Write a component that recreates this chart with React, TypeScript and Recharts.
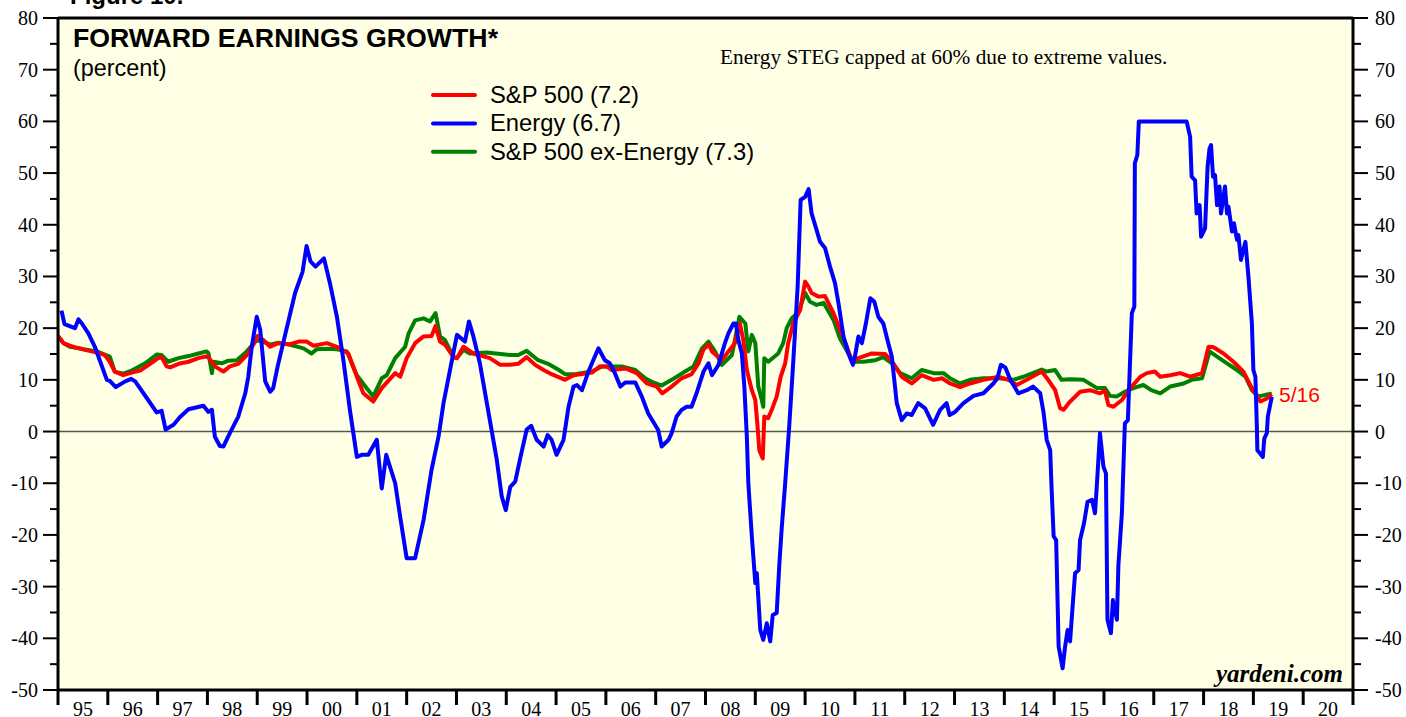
import React from 'react';
import { LineChart, Line, XAxis, YAxis, CartesianGrid, ReferenceLine } from 'recharts';

// [year, percent]
const sp500: [number, number][] = [
  [1995.0, 18.5], [1995.11, 17.1], [1995.24, 16.6], [1995.38, 16.2], [1995.54, 15.8], [1995.78, 15.3],
  [1995.94, 14.8], [1996.04, 13.5], [1996.14, 11.6], [1996.31, 10.9], [1996.48, 11.4], [1996.65, 11.8],
  [1996.85, 13.1], [1997.01, 14.2], [1997.08, 14.4], [1997.18, 12.6], [1997.25, 12.4], [1997.42, 13.1],
  [1997.62, 13.5], [1997.82, 14.2], [1997.95, 14.5], [1998.02, 14.4], [1998.15, 12.6], [1998.32, 11.6],
  [1998.45, 12.6], [1998.62, 13.1], [1998.79, 14.8], [1998.92, 16.8], [1999.01, 18.5], [1999.12, 17.7],
  [1999.26, 16.4], [1999.42, 17.1], [1999.66, 16.9], [1999.83, 17.4], [1999.99, 17.4], [2000.13, 16.6],
  [2000.4, 17.1], [2000.6, 16.4], [2000.83, 15.1], [2001.0, 10.6], [2001.13, 7.4], [2001.33, 5.8],
  [2001.5, 8.4], [2001.77, 11.3], [2001.87, 10.6], [2002.0, 14.2], [2002.17, 17.1], [2002.34, 18.4],
  [2002.5, 18.5], [2002.58, 20.4], [2002.67, 17.4], [2002.77, 16.8], [2002.94, 14.4], [2003.01, 14.2],
  [2003.14, 16.4], [2003.34, 15.1], [2003.67, 14.2], [2003.88, 12.9], [2004.08, 12.9], [2004.24, 13.1],
  [2004.41, 14.4], [2004.58, 12.9], [2004.75, 11.9], [2004.91, 11.1], [2005.18, 10.0], [2005.35, 10.9],
  [2005.72, 11.4], [2005.88, 12.6], [2006.02, 12.6], [2006.12, 11.9], [2006.39, 12.2], [2006.62, 11.3],
  [2006.82, 9.3], [2007.02, 8.7], [2007.13, 7.4], [2007.32, 8.7], [2007.52, 10.3], [2007.72, 11.1],
  [2007.86, 13.2], [2007.96, 15.9], [2008.07, 16.8], [2008.13, 15.5], [2008.33, 13.8], [2008.46, 15.5],
  [2008.59, 17.1], [2008.69, 20.9], [2008.76, 17.7], [2008.83, 11.9], [2008.93, 8.0], [2009.0, 6.1],
  [2009.04, 1.6], [2009.08, -3.6], [2009.15, -5.2], [2009.18, 2.9], [2009.26, 2.6], [2009.33, 4.2],
  [2009.43, 6.8], [2009.51, 10.6], [2009.6, 13.2], [2009.66, 17.1], [2009.76, 20.9], [2009.9, 23.5],
  [2010.0, 29.0], [2010.07, 28.0], [2010.13, 26.8], [2010.27, 26.1], [2010.4, 26.2], [2010.57, 22.9],
  [2010.7, 19.7], [2010.84, 16.4], [2010.94, 13.5], [2011.07, 14.2], [2011.34, 15.1], [2011.61, 15.0],
  [2011.77, 13.2], [2011.94, 10.6], [2012.14, 9.3], [2012.34, 10.9], [2012.58, 10.0], [2012.75, 10.3],
  [2012.91, 9.3], [2013.11, 8.6], [2013.31, 9.3], [2013.58, 10.0], [2013.88, 10.6], [2014.08, 10.0],
  [2014.25, 9.0], [2014.45, 10.0], [2014.75, 11.6], [2014.88, 10.0], [2015.02, 8.0], [2015.12, 4.5],
  [2015.19, 4.2], [2015.32, 5.8], [2015.52, 7.7], [2015.72, 8.0], [2015.92, 7.4], [2016.02, 7.9],
  [2016.09, 5.1], [2016.19, 4.8], [2016.36, 6.1], [2016.53, 8.4], [2016.73, 10.6], [2016.86, 11.3],
  [2017.02, 11.6], [2017.13, 10.6], [2017.33, 10.9], [2017.53, 11.3], [2017.73, 10.6], [2017.97, 11.3],
  [2018.1, 16.4], [2018.2, 16.3], [2018.4, 15.1], [2018.6, 13.5], [2018.8, 11.6], [2018.97, 8.4],
  [2019.14, 5.8], [2019.27, 6.4], [2019.37, 7.2],
];

const exEnergy: [number, number][] = [
  [1995.0, 18.5], [1995.11, 17.1], [1995.24, 16.4], [1995.54, 15.9], [1995.78, 15.5], [1995.94, 14.9],
  [1996.04, 14.5], [1996.14, 11.6], [1996.31, 11.2], [1996.48, 11.8], [1996.75, 13.2], [1996.98, 14.9],
  [1997.08, 14.8], [1997.21, 13.5], [1997.42, 14.2], [1997.62, 14.6], [1997.82, 15.1], [1997.98, 15.5],
  [1998.02, 15.2], [1998.09, 11.3], [1998.12, 13.5], [1998.29, 13.2], [1998.42, 13.7], [1998.59, 13.8],
  [1998.79, 15.5], [1998.99, 17.7], [1999.12, 17.4], [1999.26, 16.8], [1999.42, 17.2], [1999.66, 16.8],
  [1999.93, 16.1], [2000.09, 15.1], [2000.19, 15.9], [2000.4, 16.0], [2000.6, 15.9], [2000.8, 15.5],
  [2001.0, 10.9], [2001.17, 8.7], [2001.33, 6.8], [2001.5, 10.3], [2001.6, 10.9], [2001.77, 14.2],
  [2001.97, 16.4], [2002.04, 19.0], [2002.17, 21.5], [2002.34, 21.9], [2002.47, 21.3], [2002.58, 22.9],
  [2002.67, 18.4], [2002.77, 17.7], [2002.94, 14.4], [2003.01, 14.2], [2003.14, 15.8], [2003.27, 15.1],
  [2003.61, 15.3], [2004.08, 14.8], [2004.24, 14.8], [2004.41, 15.6], [2004.64, 13.8], [2004.84, 13.1],
  [2005.04, 12.0], [2005.18, 11.1], [2005.38, 11.1], [2005.72, 11.6], [2005.92, 12.6], [2006.32, 12.6],
  [2006.59, 11.9], [2006.79, 10.3], [2006.95, 9.5], [2007.12, 8.9], [2007.32, 10.0], [2007.59, 11.6],
  [2007.76, 12.6], [2007.93, 16.1], [2008.06, 17.4], [2008.19, 15.5], [2008.33, 12.9], [2008.53, 14.8],
  [2008.59, 17.7], [2008.68, 22.2], [2008.8, 20.9], [2008.86, 15.5], [2008.93, 18.7], [2009.0, 17.1],
  [2009.06, 8.7], [2009.13, 6.1], [2009.16, 4.8], [2009.18, 14.2], [2009.26, 13.5], [2009.46, 15.1],
  [2009.56, 17.1], [2009.63, 20.0], [2009.73, 21.9], [2009.87, 23.2], [2010.0, 26.8], [2010.1, 25.1],
  [2010.23, 24.5], [2010.37, 24.9], [2010.57, 21.6], [2010.7, 18.0], [2010.87, 15.1], [2010.97, 13.5],
  [2011.17, 13.5], [2011.41, 13.8], [2011.57, 14.4], [2011.77, 13.0], [2011.91, 11.3], [2012.14, 10.3],
  [2012.34, 11.9], [2012.58, 11.3], [2012.78, 11.3], [2012.91, 10.3], [2013.11, 9.3], [2013.31, 10.0],
  [2013.58, 10.3], [2013.88, 10.3], [2014.18, 10.0], [2014.38, 10.6], [2014.75, 12.0], [2014.85, 11.6],
  [2015.02, 11.9], [2015.15, 10.0], [2015.32, 10.1], [2015.59, 10.0], [2015.86, 8.4], [2016.02, 8.4],
  [2016.12, 6.9], [2016.26, 6.8], [2016.42, 7.7], [2016.59, 8.4], [2016.79, 9.0], [2016.95, 8.0],
  [2017.13, 7.4], [2017.33, 8.7], [2017.6, 9.3], [2017.76, 10.0], [2017.97, 10.3], [2018.12, 15.5],
  [2018.27, 14.5], [2018.47, 13.2], [2018.67, 11.9], [2018.84, 10.6], [2018.97, 8.0], [2019.1, 6.8],
  [2019.24, 7.1], [2019.37, 7.3],
];

const energy: [number, number][] = [
  [1995.07, 23.4], [1995.13, 20.8], [1995.34, 20.0], [1995.41, 21.7], [1995.48, 20.9], [1995.61, 19.0],
  [1995.74, 16.4], [1995.98, 10.0], [1996.04, 9.8], [1996.16, 8.6], [1996.35, 9.7], [1996.47, 10.2],
  [1996.55, 9.7], [1996.81, 6.1], [1996.98, 3.7], [1997.08, 4.0], [1997.16, 0.4], [1997.32, 1.3],
  [1997.45, 2.8], [1997.62, 4.3], [1997.92, 5.0], [1998.02, 3.8], [1998.09, 4.2], [1998.15, -1.0],
  [1998.25, -2.8], [1998.32, -2.9], [1998.45, -0.3], [1998.62, 2.9], [1998.76, 7.4], [1998.82, 10.6],
  [1998.89, 16.4], [1998.99, 22.2], [1999.06, 19.7], [1999.16, 9.7], [1999.26, 7.7], [1999.32, 8.4],
  [1999.41, 12.6], [1999.56, 18.7], [1999.76, 26.8], [1999.91, 30.9], [1999.99, 35.9], [2000.07, 32.9],
  [2000.17, 31.9], [2000.34, 33.5], [2000.46, 28.7], [2000.6, 22.2], [2000.73, 13.8], [2000.86, 4.2],
  [2001.0, -4.9], [2001.1, -4.5], [2001.23, -4.5], [2001.4, -1.6], [2001.5, -11.0], [2001.59, -4.5],
  [2001.77, -10.0], [2001.87, -16.5], [2002.0, -24.5], [2002.17, -24.5], [2002.34, -17.1], [2002.5, -7.4],
  [2002.64, -1.0], [2002.74, 5.5], [2002.87, 11.9], [2003.01, 18.7], [2003.17, 17.4], [2003.25, 21.3],
  [2003.34, 18.4], [2003.47, 13.2], [2003.67, 2.2], [2003.81, -5.5], [2003.91, -12.6], [2003.99, -15.2],
  [2004.08, -10.7], [2004.18, -9.7], [2004.28, -5.2], [2004.41, 0.4], [2004.5, 1.1], [2004.61, -1.6],
  [2004.75, -2.9], [2004.83, -0.7], [2004.91, -1.6], [2005.01, -4.5], [2005.15, -1.6], [2005.25, 4.8],
  [2005.35, 8.7], [2005.42, 9.0], [2005.52, 8.0], [2005.65, 11.6], [2005.85, 16.1], [2005.98, 13.8],
  [2006.08, 13.2], [2006.18, 11.3], [2006.29, 8.7], [2006.39, 9.5], [2006.59, 9.5], [2006.72, 6.8],
  [2006.85, 3.5], [2007.05, 0.3], [2007.12, -2.9], [2007.26, -1.6], [2007.32, -0.3], [2007.42, 2.9],
  [2007.52, 4.2], [2007.62, 4.8], [2007.72, 4.8], [2007.82, 7.4], [2007.96, 11.6], [2008.06, 13.2],
  [2008.13, 10.9], [2008.26, 12.9], [2008.39, 17.1], [2008.46, 19.0], [2008.56, 20.9], [2008.61, 20.9],
  [2008.66, 17.7], [2008.73, 15.1], [2008.78, 8.7], [2008.83, -1.0], [2008.86, -10.0], [2008.93, -20.3],
  [2009.0, -29.3], [2009.03, -27.4], [2009.1, -38.4], [2009.16, -40.3], [2009.23, -37.1], [2009.3, -40.6],
  [2009.35, -35.5], [2009.43, -35.1], [2009.48, -26.1], [2009.53, -18.7], [2009.6, -10.0], [2009.68, 0.9],
  [2009.76, 13.2], [2009.85, 28.0], [2009.91, 44.8], [2010.0, 45.4], [2010.07, 46.9], [2010.13, 42.2],
  [2010.23, 39.0], [2010.3, 36.7], [2010.4, 35.5], [2010.5, 31.9], [2010.6, 28.7], [2010.67, 24.8],
  [2010.77, 18.4], [2010.87, 15.1], [2010.96, 12.9], [2011.0, 14.5], [2011.07, 18.4], [2011.14, 17.1],
  [2011.22, 20.9], [2011.31, 25.8], [2011.39, 25.1], [2011.47, 22.2], [2011.57, 20.9], [2011.67, 17.1],
  [2011.74, 14.5], [2011.84, 5.5], [2011.94, 2.2], [2012.04, 3.5], [2012.14, 3.2], [2012.27, 5.5],
  [2012.41, 4.5], [2012.57, 1.3], [2012.71, 4.2], [2012.84, 5.5], [2012.9, 3.2], [2013.01, 3.8],
  [2013.18, 5.5], [2013.38, 6.9], [2013.58, 7.4], [2013.78, 9.3], [2013.86, 10.3], [2013.93, 12.9],
  [2014.02, 12.4], [2014.12, 10.0], [2014.28, 7.4], [2014.45, 8.0], [2014.58, 8.7], [2014.72, 7.4],
  [2014.79, 3.5], [2014.85, -1.6], [2014.92, -3.6], [2014.95, -11.3], [2014.99, -20.3], [2015.04, -21.0],
  [2015.09, -41.6], [2015.17, -45.8], [2015.22, -41.6], [2015.27, -38.4], [2015.32, -40.6], [2015.37, -33.9],
  [2015.42, -27.4], [2015.49, -26.8], [2015.52, -21.0], [2015.6, -17.7], [2015.67, -13.6], [2015.76, -13.2],
  [2015.82, -15.8], [2015.86, -10.0], [2015.92, -0.3], [2015.99, -6.8], [2016.04, -8.1], [2016.07, -36.4],
  [2016.14, -39.0], [2016.18, -32.6], [2016.26, -36.4], [2016.29, -25.8], [2016.36, -15.8], [2016.42, 1.6],
  [2016.48, 2.2], [2016.56, 22.9], [2016.61, 24.2], [2016.62, 51.9], [2016.67, 53.5], [2016.7, 60.0],
  [2017.66, 60.0], [2017.73, 57.0], [2017.76, 49.3], [2017.83, 48.6], [2017.86, 42.2], [2017.92, 43.8],
  [2017.95, 37.7], [2018.03, 39.3], [2018.08, 51.2], [2018.12, 54.8], [2018.15, 55.4], [2018.19, 49.3],
  [2018.23, 49.6], [2018.27, 43.8], [2018.32, 47.4], [2018.35, 42.2], [2018.43, 47.4], [2018.47, 42.2],
  [2018.5, 43.5], [2018.57, 38.7], [2018.61, 40.3], [2018.67, 37.1], [2018.7, 38.0], [2018.75, 33.2],
  [2018.84, 36.7], [2018.9, 30.0], [2018.97, 20.9], [2019.0, 11.9], [2019.04, 10.6], [2019.07, 0.9],
  [2019.08, -3.6], [2019.13, -4.2], [2019.19, -4.9], [2019.22, -1.3], [2019.27, -0.3], [2019.29, 2.9],
  [2019.33, 4.8], [2019.37, 6.7],
];

const yTicks = [-50, -45, -40, -35, -30, -25, -20, -15, -10, -5, 0, 5, 10, 15, 20, 25, 30, 35, 40, 45, 50, 55, 60, 65, 70, 75, 80];
const xTicks = [1995, 1996, 1997, 1998, 1999, 2000, 2001, 2002, 2003, 2004, 2005, 2006, 2007, 2008, 2009, 2010, 2011, 2012, 2013, 2014, 2015, 2016, 2017, 2018, 2019, 2020, 2021];

const legendItems = [
  { name: 'S&P 500 (7.2)', color: '#FF0000' },
  { name: 'Energy (6.7)', color: '#0000FF' },
  { name: 'S&P 500 ex-Energy (7.3)', color: '#008000' },
];

const W = 1406;
const H = 717;
const PLOT_L = 58;
const PLOT_R = 1353;
const PLOT_T = 18;
const PLOT_B = 690;
const HALF_YEAR = (PLOT_R - PLOT_L) / (xTicks.length - 1) / 2;
const SERIF = '"Liberation Serif", "Times New Roman", serif';
const SANS = '"Liberation Sans", Arial, sans-serif';

const toRows = (arr: [number, number][]) => arr.map(([x, y]) => ({ x, y }));

const LeftTick = (props: any) => {
  const { x, y, payload } = props;
  const v = payload.value;
  const major = v % 10 === 0;
  return (
    <g>
      <line x1={x - (major ? 15 : 8)} x2={x} y1={y} y2={y} stroke="#000" strokeWidth={2} />
      {major && (
        <text x={x - 20} y={y} dy={7} textAnchor="end" fontFamily={SERIF} fontSize={20} fill="#000">
          {v}
        </text>
      )}
    </g>
  );
};

const RightTick = (props: any) => {
  const { x, y, payload } = props;
  const v = payload.value;
  const major = v % 10 === 0;
  return (
    <g>
      <line x1={x} x2={x + (major ? 15 : 8)} y1={y} y2={y} stroke="#000" strokeWidth={2} />
      {major && (
        <text x={x + 22} y={y} dy={7} textAnchor="start" fontFamily={SERIF} fontSize={20} fill="#000">
          {v}
        </text>
      )}
    </g>
  );
};

const XTick = (props: any) => {
  const { x, y, payload } = props;
  const v = payload.value;
  return (
    <g>
      <line x1={x} x2={x} y1={y} y2={y + 15} stroke="#000" strokeWidth={3} />
      {v < 2021 && (
        <text x={x + HALF_YEAR} y={y + 26} textAnchor="middle" fontFamily={SERIF} fontSize={20} fill="#000">
          {String(v % 100).padStart(2, '0')}
        </text>
      )}
    </g>
  );
};

export default function App() {
  return (
    <div style={{ position: 'absolute', left: 0, top: 0, width: W, height: H, background: '#fff' }}>
      <LineChart width={W} height={H} margin={{ top: PLOT_T, right: 0, bottom: 0, left: 0 }}>
        <CartesianGrid yAxisId="left" horizontal={false} vertical={false} fill="#FFFFE6" fillOpacity={1} stroke="none" />
        <XAxis
          type="number"
          dataKey="x"
          domain={[1995, 2021]}
          allowDataOverflow
          ticks={xTicks}
          interval={0}
          height={H - PLOT_B}
          tickSize={0}
          tickMargin={0}
          tick={<XTick />}
          tickLine={false}
          axisLine={{ stroke: '#000', strokeWidth: 3 }}
        />
        <YAxis
          yAxisId="left"
          orientation="left"
          type="number"
          domain={[-50, 80]}
          allowDataOverflow
          ticks={yTicks}
          interval={0}
          width={PLOT_L}
          tickSize={0}
          tickMargin={0}
          tick={<LeftTick />}
          tickLine={false}
          axisLine={{ stroke: '#000', strokeWidth: 3 }}
        />
        <YAxis
          yAxisId="right"
          orientation="right"
          type="number"
          domain={[-50, 80]}
          allowDataOverflow
          ticks={yTicks}
          interval={0}
          width={W - PLOT_R}
          tickSize={0}
          tickMargin={0}
          tick={<RightTick />}
          tickLine={false}
          axisLine={{ stroke: '#000', strokeWidth: 3 }}
        />
        <ReferenceLine yAxisId="left" y={0} stroke="#555" strokeWidth={1.5} />
        <ReferenceLine yAxisId="left" y={80} stroke="#000" strokeWidth={3} />
        <Line
          yAxisId="left"
          data={toRows(exEnergy)}
          dataKey="y"
          stroke="#008000"
          strokeWidth={4}
          dot={false}
          isAnimationActive={false}
          strokeLinejoin="round"
        />
        <Line
          yAxisId="left"
          data={toRows(sp500)}
          dataKey="y"
          stroke="#FF0000"
          strokeWidth={4}
          dot={false}
          isAnimationActive={false}
          strokeLinejoin="round"
        />
        <Line
          yAxisId="left"
          data={toRows(energy)}
          dataKey="y"
          stroke="#0000FF"
          strokeWidth={4}
          dot={false}
          isAnimationActive={false}
          strokeLinejoin="round"
        />
      </LineChart>
      <svg width={W} height={H} style={{ position: 'absolute', left: 0, top: 0, pointerEvents: 'none' }}>
        <text x={70} y={4} fontFamily={SANS} fontWeight="bold" fontSize={24} fill="#000">Figure 10.</text>
        <text x={73} y={47} fontFamily={SANS} fontWeight="bold" fontSize={26.7} fill="#000">FORWARD EARNINGS GROWTH*</text>
        <text x={73} y={76} fontFamily={SANS} fontSize={23.4} fill="#000">(percent)</text>
        {legendItems.map((item, i) => (
          <g key={item.name}>
            <line x1={433} x2={475} y1={95 + i * 28.4} y2={95 + i * 28.4} stroke={item.color} strokeWidth={4} strokeLinecap="round" />
            <text x={490} y={103 + i * 28.4} fontFamily={SANS} fontSize={23.8} fill="#000">{item.name}</text>
          </g>
        ))}
        <text x={720} y={64} fontFamily={SERIF} fontSize={21.3} fill="#000">Energy STEG capped at 60% due to extreme values.</text>
        <text x={1343} y={682} textAnchor="end" fontFamily={SERIF} fontWeight="bold" fontStyle="italic" fontSize={25} fill="#000">yardeni.com</text>
        <text x={1279} y={402} fontFamily={SANS} fontSize={21} fill="#FF0000">5/16</text>
      </svg>
    </div>
  );
}
